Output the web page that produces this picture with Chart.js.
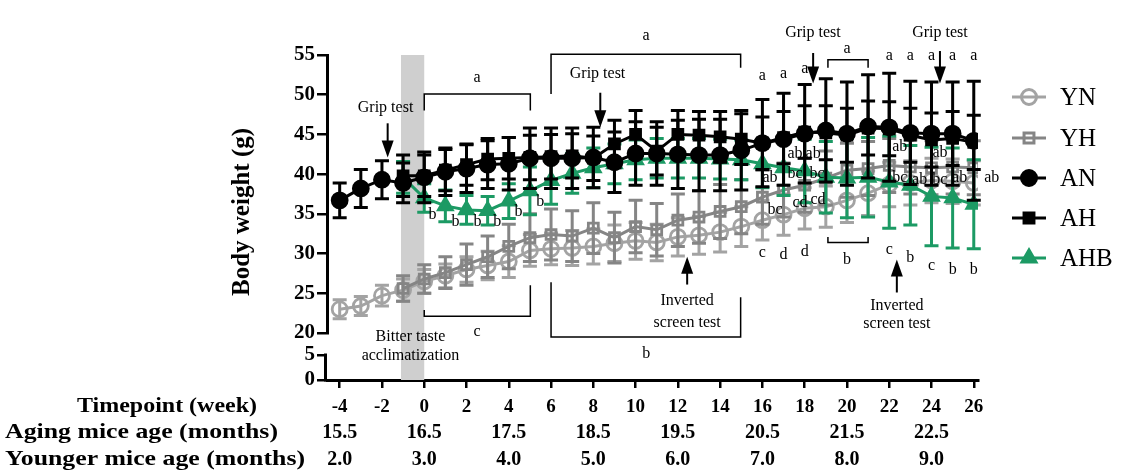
<!DOCTYPE html>
<html>
<head>
<meta charset="utf-8">
<script src="https://cdn.jsdelivr.net/npm/chart.js@4"></script>
<style>
html, body { margin: 0; padding: 0; background: #fff; }
</style>
</head>
<body>
<canvas id="myChart" width="1134" height="474"></canvas>
<script>
const SERIF = '"Liberation Serif", "Times New Roman", serif';

// weekly timepoints
const weeks = [-4, -3, -2, -1, 0, 1, 2, 3, 4, 5, 6, 7, 8, 9, 10, 11, 12, 13, 14, 15, 16, 17, 18, 19, 20, 21, 22, 23, 24, 25, 26];
const weekTicks = [-4, -2, 0, 2, 4, 6, 8, 10, 12, 14, 16, 18, 20, 22, 24, 26];
const ageTicks = [-4, 0, 4, 8, 12, 16, 20, 24];
const agingAges = ['15.5', '16.5', '17.5', '18.5', '19.5', '20.5', '21.5', '22.5'];
const youngerAges = ['2.0', '3.0', '4.0', '5.0', '6.0', '7.0', '8.0', '9.0'];
const upperTicks = [20, 25, 30, 35, 40, 45, 50, 55];
const lowerTicks = [0, 5];

// mean body weight (g)
const ynMean = [23.0, 23.4, 24.7, 25.4, 26.5, 27.2, 28.0, 28.5, 29.0, 30.4, 30.6, 30.7, 30.9, 31.3, 31.6, 31.4, 32.1, 32.3, 32.7, 33.4, 34.2, 34.9, 35.7, 35.9, 36.7, 37.6, 38.7, 38.9, 39.2, 39.1, 38.9];
const yhMean = [null, null, null, 25.6, 26.8, 27.6, 28.6, 29.6, 30.9, 32.0, 32.4, 32.2, 33.2, 32.0, 33.4, 33.0, 34.2, 34.6, 35.3, 35.9, 37.1, 38.0, 38.6, 39.5, 40.5, 40.7, 41.1, 40.9, 40.8, 40.9, 40.8];
const anMean = [36.7, 38.2, 39.3, 38.9, 39.6, 40.3, 40.7, 41.2, 41.3, 42.0, 42.0, 42.0, 42.1, 41.5, 42.6, 42.6, 42.5, 42.4, 42.4, 43.0, 43.9, 44.4, 45.1, 45.5, 45.1, 46.0, 45.9, 45.2, 45.1, 45.1, 44.2];
const ahMean = [null, null, null, 39.8, 39.8, 40.5, 41.2, 41.9, 42.0, 42.1, 42.2, 42.3, 42.0, 43.8, 45.0, 42.9, 45.0, 44.9, 44.7, 44.4, 43.9, 44.6, 45.3, 45.2, 44.9, 45.8, 45.7, 44.9, 44.3, 44.5, 44.0];
const ahbMean = [null, null, null, 39.6, 37.0, 36.0, 35.5, 35.4, 36.6, 37.9, 39.2, 40.1, 40.8, 41.3, 41.8, 42.0, 42.0, 42.0, 41.9, 41.8, 41.3, 40.8, 40.4, 39.6, 39.5, 39.6, 39.0, 38.6, 37.2, 37.0, 36.2];

// standard deviations
const ynSd = [1.2, 1.2, 1.3, 1.4, 1.5, 1.5, 1.6, 1.8, 2.0, 2.0, 2.0, 2.2, 2.2, 2.3, 2.3, 2.3, 2.4, 2.4, 2.5, 2.5, 2.5, 2.6, 2.6, 2.6, 2.8, 2.8, 2.8, 2.8, 2.8, 2.8, 2.8];
const yhSd = [null, null, null, 1.6, 1.8, 2.0, 2.6, 2.6, 2.8, 3.0, 3.2, 3.2, 3.2, 3.2, 3.3, 3.3, 3.3, 3.3, 3.4, 3.4, 3.4, 3.4, 3.4, 3.4, 3.4, 3.4, 3.4, 3.4, 3.4, 3.4, 3.4];
const anSd = [2.2, 2.4, 2.4, 2.5, 3.2, 3.0, 3.0, 3.0, 3.3, 3.8, 3.8, 3.8, 3.8, 3.8, 4.0, 4.0, 4.3, 4.5, 4.5, 5.0, 5.5, 5.8, 6.2, 6.5, 6.5, 6.5, 6.8, 6.5, 6.5, 6.5, 7.5];
const ahSd = [null, null, null, 2.6, 2.6, 2.6, 2.6, 2.6, 2.6, 2.8, 2.8, 2.8, 2.8, 3.0, 3.0, 3.0, 3.0, 3.0, 3.2, 3.2, 3.3, 3.3, 3.3, 3.4, 3.4, 3.4, 3.4, 3.4, 3.4, 3.4, 3.4];
const ahbSd = [null, null, null, 2.0, 1.8, 2.0, 1.8, 1.8, 2.2, 3.0, 3.0, 2.5, 2.5, 2.5, 2.5, 2.5, 2.5, 2.5, 2.5, 2.5, 3.0, 3.5, 4.0, 4.5, 5.0, 5.0, 5.8, 5.0, 6.2, 6.3, 5.6];

// annotations in data units: [text, week, grams]
const notes = [
    ['Grip test', -1.83, 48.4], ['a', 2.5, 52.1], ['c', 2.5, 20.1],
    ['Bitter taste', -0.65, 19.5], ['acclimatization', -0.65, 17.1],
    ['a', 10.5, 57.4], ['Grip test', 8.2, 52.6], ['b', 10.5, 17.4],
    ['Inverted', 12.44, 24.1], ['screen test', 12.44, 21.25],
    ['Grip test', 18.39, 57.75], ['a', 20.0, 55.75],
    ['a', 16, 52.4], ['a', 17, 52.6], ['a', 18, 53.25],
    ['a', 22, 54.9], ['a', 23, 54.9], ['a', 24, 54.9], ['a', 25, 54.9], ['a', 26, 54.9],
    ['Grip test', 24.4, 57.75], ['b', 20, 29.25],
    ['c', 16, 30.1], ['d', 17, 29.9], ['d', 18, 30.25], ['c', 22, 30.5], ['b', 23, 29.5],
    ['c', 24, 28.4], ['b', 25, 28.0], ['b', 26, 28.0],
    ['Inverted', 22.36, 23.4], ['screen test', 22.36, 21.1],
    ['ab', 17.54, 42.6], ['ab', 18.4, 42.6], ['ab', 22.5, 43.4], ['ab', 24.4, 42.75],
    ['ab', 16.36, 39.6], ['bc', 17.54, 40.1], ['bc', 18.58, 40.1],
    ['bc', 22.5, 39.6], ['ab', 23.44, 39.25], ['bc', 24.39, 39.25], ['ab', 25.33, 39.5], ['ab', 26.85, 39.5],
    ['bc', 16.6, 35.5], ['cd', 17.78, 36.4], ['cd', 18.63, 36.75],
    ['b', 0.39, 34.9], ['b', 1.48, 34.0], ['b', 2.52, 34.0], ['b', 3.46, 34.0], ['b', 4.46, 35.25], ['b', 5.49, 36.5]
];
// [week, from, to] arrow head at "to"
const arrows = [[-1.73, 46.4, 42.1], [8.33, 50.25, 45.9], [12.44, 26.1, 29.6], [18.4, 55.25, 51.4], [24.4, 55.5, 51.4], [22.36, 25.1, 29.25]];
const brackets = [
    [[0, 48.0], [0, 50.1], [5.02, 50.1], [5.02, 48.0]],
    [[0, 22.9], [0, 22.1], [5.02, 22.1], [5.02, 26.0]],
    [[6, 50.1], [6, 55.1], [14.97, 55.1], [14.97, 53.4]],
    [[6, 26.4], [6, 19.5], [14.97, 19.5], [14.97, 24.5]],
    [[19.1, 53.4], [19.1, 54.4], [21, 54.4], [21, 53.4]],
    [[19.1, 32.1], [19.1, 31.4], [21, 31.4], [21, 32.1]]
];
const bitterWeeks = [-1.1, 0];

const GREEN = '#1c9a64';
const BLACK = '#000000';
const GREY1 = '#a3a3a3';
const GREY2 = '#858585';

function pts(vals) {
    return weeks.map((w, i) => ({x: w, y: vals[i]}));
}

function serie(label, vals, sd, color, style, filled, order) {
    return {
        label: label,
        data: pts(vals),
        sd: sd,
        order: order,
        xAxisID: 'x',
        yAxisID: 'y',
        borderColor: color,
        backgroundColor: color,
        borderWidth: 3,
        pointStyle: style,
        pointRadius: style === 'triangle' ? 8 : (style === 'rect' ? 7 : 7.5),
        pointBorderWidth: 2.8,
        pointBorderColor: color,
        pointBackgroundColor: filled ? color : 'rgba(0,0,0,0)',
        tension: 0
    };
}

const errorBars = {
    id: 'errorBars',
    beforeDatasetDraw(chart, args) {
        const ds = chart.data.datasets[args.index];
        if (!ds.sd) return;
        const xs = chart.scales.x, ys = chart.scales.y, ctx = chart.ctx;
        ctx.save();
        ctx.strokeStyle = ds.borderColor;
        ctx.lineWidth = 3;
        ds.data.forEach((p, i) => {
            const s = ds.sd[i];
            if (p.y == null || s == null) return;
            const px = xs.getPixelForValue(p.x);
            const top = ys.getPixelForValue(p.y + s);
            const bot = ys.getPixelForValue(p.y - s);
            ctx.beginPath();
            ctx.moveTo(px, top); ctx.lineTo(px, bot);
            ctx.moveTo(px - 7, top); ctx.lineTo(px + 7, top);
            ctx.moveTo(px - 7, bot); ctx.lineTo(px + 7, bot);
            ctx.stroke();
        });
        ctx.restore();
    }
};

// draw text squeezed or stretched to a target width, like the original figure
function fitText(ctx, text, x, y, width) {
    const w = ctx.measureText(text).width;
    ctx.save();
    ctx.translate(x, y);
    ctx.scale(width / w, 1);
    ctx.fillText(text, 0, 0);
    ctx.restore();
}

const decor = {
    id: 'decor',
    beforeDatasetsDraw(chart) {
        const ctx = chart.ctx, xs = chart.scales.x, ys = chart.scales.y, y2 = chart.scales.y2;
        ctx.save();
        ctx.fillStyle = '#cfcfcf';
        const l = xs.getPixelForValue(bitterWeeks[0]), r = xs.getPixelForValue(bitterWeeks[1]);
        const t = ys.getPixelForValue(55), b = y2.getPixelForValue(0);
        ctx.fillRect(l, t, r - l, b - t);
        ctx.restore();
    },
    afterDatasetsDraw(chart) {
        const ctx = chart.ctx, xs = chart.scales.x, ys = chart.scales.y;
        const X = v => xs.getPixelForValue(v), Y = v => ys.getPixelForValue(v);
        ctx.save();
        ctx.strokeStyle = '#000';
        ctx.fillStyle = '#000';
        ctx.lineWidth = 1.5;
        brackets.forEach(br => {
            ctx.beginPath();
            br.forEach((p, i) => i ? ctx.lineTo(X(p[0]), Y(p[1])) : ctx.moveTo(X(p[0]), Y(p[1])));
            ctx.stroke();
        });
        ctx.lineWidth = 2;
        arrows.forEach(a => {
            const x = X(a[0]), y1 = Y(a[1]), y2 = Y(a[2]);
            const dir = y2 > y1 ? 1 : -1;
            ctx.beginPath();
            ctx.moveTo(x, y1); ctx.lineTo(x, y2 - dir * 14);
            ctx.stroke();
            ctx.beginPath();
            ctx.moveTo(x, y2);
            ctx.lineTo(x - 6, y2 - dir * 17);
            ctx.lineTo(x + 6, y2 - dir * 17);
            ctx.closePath();
            ctx.fill();
        });
        ctx.font = '16px ' + SERIF;
        ctx.textAlign = 'center';
        ctx.textBaseline = 'middle';
        notes.forEach(n => ctx.fillText(n[0], X(n[1]), Y(n[2])));
        ctx.restore();
    },
    afterDraw(chart) {
        const ctx = chart.ctx, y2 = chart.scales.y2, ys = chart.scales.y;
        ctx.save();
        // lower axis segment
        ctx.strokeStyle = '#000';
        ctx.lineWidth = 3;
        const ax = ys.right - 1.5;
        ctx.beginPath();
        ctx.moveTo(ax, y2.getPixelForValue(5) - 1.5);
        ctx.lineTo(ax, y2.getPixelForValue(0) + 1.5);
        ctx.stroke();
        // axis title
        ctx.fillStyle = '#000';
        ctx.font = 'bold 25px ' + SERIF;
        ctx.textAlign = 'center';
        ctx.textBaseline = 'middle';
        ctx.translate(243, 212);
        ctx.rotate(-Math.PI / 2);
        ctx.fillText('Body weight (g)', 0, 0);
        ctx.restore();

        ctx.save();
        ctx.fillStyle = '#000';
        ctx.font = 'bold 21px ' + SERIF;
        ctx.textBaseline = 'middle';
        ctx.textAlign = 'left';
        fitText(ctx, 'Timepoint (week)', 77, 407, 180);
        fitText(ctx, 'Aging mice age (months)', 5, 433, 273);
        fitText(ctx, 'Younger mice age (months)', 5, 460, 300);

        // legend
        const rows = [97, 138, 178, 218, 258];
        const legendOrder = ['YN', 'YH', 'AN', 'AH', 'AHB'];
        ctx.font = '25px ' + SERIF;
        legendOrder.forEach((name, k) => {
            const ds = chart.data.datasets.find(d => d.label === name);
            const y = rows[k];
            ctx.strokeStyle = ds.borderColor;
            ctx.lineWidth = 3;
            ctx.beginPath();
            ctx.moveTo(1012, y); ctx.lineTo(1046, y);
            ctx.stroke();
            ctx.fillStyle = ds.pointBackgroundColor;
            Chart.helpers.drawPoint(ctx, {pointStyle: ds.pointStyle, radius: ds.pointRadius, borderWidth: 2.8, rotation: 0}, 1029, y);
            ctx.fillStyle = '#000';
            ctx.fillText(name, 1060, y + 1);
        });
        ctx.restore();
    }
};

const tickFont = {family: SERIF, size: 21, weight: 'bold'};
const xFont = {family: SERIF, size: 19, weight: 'bold'};
const ageFont = {family: SERIF, size: 20, weight: 'bold'};

new Chart(document.getElementById('myChart').getContext('2d'), {
    type: 'line',
    data: {
        datasets: [
            serie('YN', ynMean, ynSd, GREY1, 'circle', false, 4),
            serie('YH', yhMean, yhSd, GREY2, 'rect', false, 3),
            serie('AN', anMean, anSd, BLACK, 'circle', true, 0),
            serie('AH', ahMean, ahSd, BLACK, 'rect', true, 1),
            serie('AHB', ahbMean, ahbSd, GREEN, 'triangle', true, 2)
        ]
    },
    options: {
        responsive: false,
        animation: false,
        devicePixelRatio: 1,
        layout: {padding: {top: 55, right: 156, left: 0, bottom: 0}},
        plugins: {legend: {display: false}, tooltip: {enabled: false}},
        scales: {
            x: {
                type: 'linear', position: 'bottom', min: -4.6, max: 26.2,
                afterBuildTicks: s => { s.ticks = weekTicks.map(v => ({value: v})); },
                afterFit: s => { s.height = 40; },
                grid: {drawOnChartArea: false, tickLength: 8, lineWidth: 2.5, color: '#000'},
                border: {width: 3, color: '#000'},
                ticks: {font: xFont, color: '#000', padding: 8, maxRotation: 0, autoSkip: false}
            },
            x2: {
                type: 'linear', position: 'bottom', min: -4.6, max: 26.2,
                afterBuildTicks: s => { s.ticks = ageTicks.map(v => ({value: v})); },
                afterFit: s => { s.height = 26; },
                grid: {display: false, drawTicks: false, tickLength: 0}, border: {display: false},
                ticks: {font: ageFont, color: '#000', padding: 1, maxRotation: 0, autoSkip: false,
                    callback: (v, i) => agingAges[i]}
            },
            x3: {
                type: 'linear', position: 'bottom', min: -4.6, max: 26.2,
                afterBuildTicks: s => { s.ticks = ageTicks.map(v => ({value: v})); },
                afterFit: s => { s.height = 28; },
                grid: {display: false, drawTicks: false, tickLength: 0}, border: {display: false},
                ticks: {font: ageFont, color: '#000', padding: 2, maxRotation: 0, autoSkip: false,
                    callback: (v, i) => youngerAges[i]}
            },
            y2: {
                type: 'linear', position: 'left', stack: 'w', stackWeight: 47, min: 0, max: 9.4,
                afterBuildTicks: s => { s.ticks = lowerTicks.map(v => ({value: v})); },
                afterFit: s => { s.width = 327; },
                grid: {drawOnChartArea: false, tickLength: 10, lineWidth: 2.5, color: '#000'},
                border: {display: false},
                ticks: {font: tickFont, color: '#000', padding: 2, autoSkip: false}
            },
            y: {
                type: 'linear', position: 'left', stack: 'w', stackWeight: 278, min: 20, max: 55,
                afterBuildTicks: s => { s.ticks = upperTicks.map(v => ({value: v})); },
                afterFit: s => { s.width = 327; },
                grid: {drawOnChartArea: false, tickLength: 10, lineWidth: 2.5, color: '#000'},
                border: {width: 3, color: '#000'},
                ticks: {font: tickFont, color: '#000', padding: 2, autoSkip: false}
            }
        }
    },
    plugins: [errorBars, decor]
});
</script>
</body>
</html>
